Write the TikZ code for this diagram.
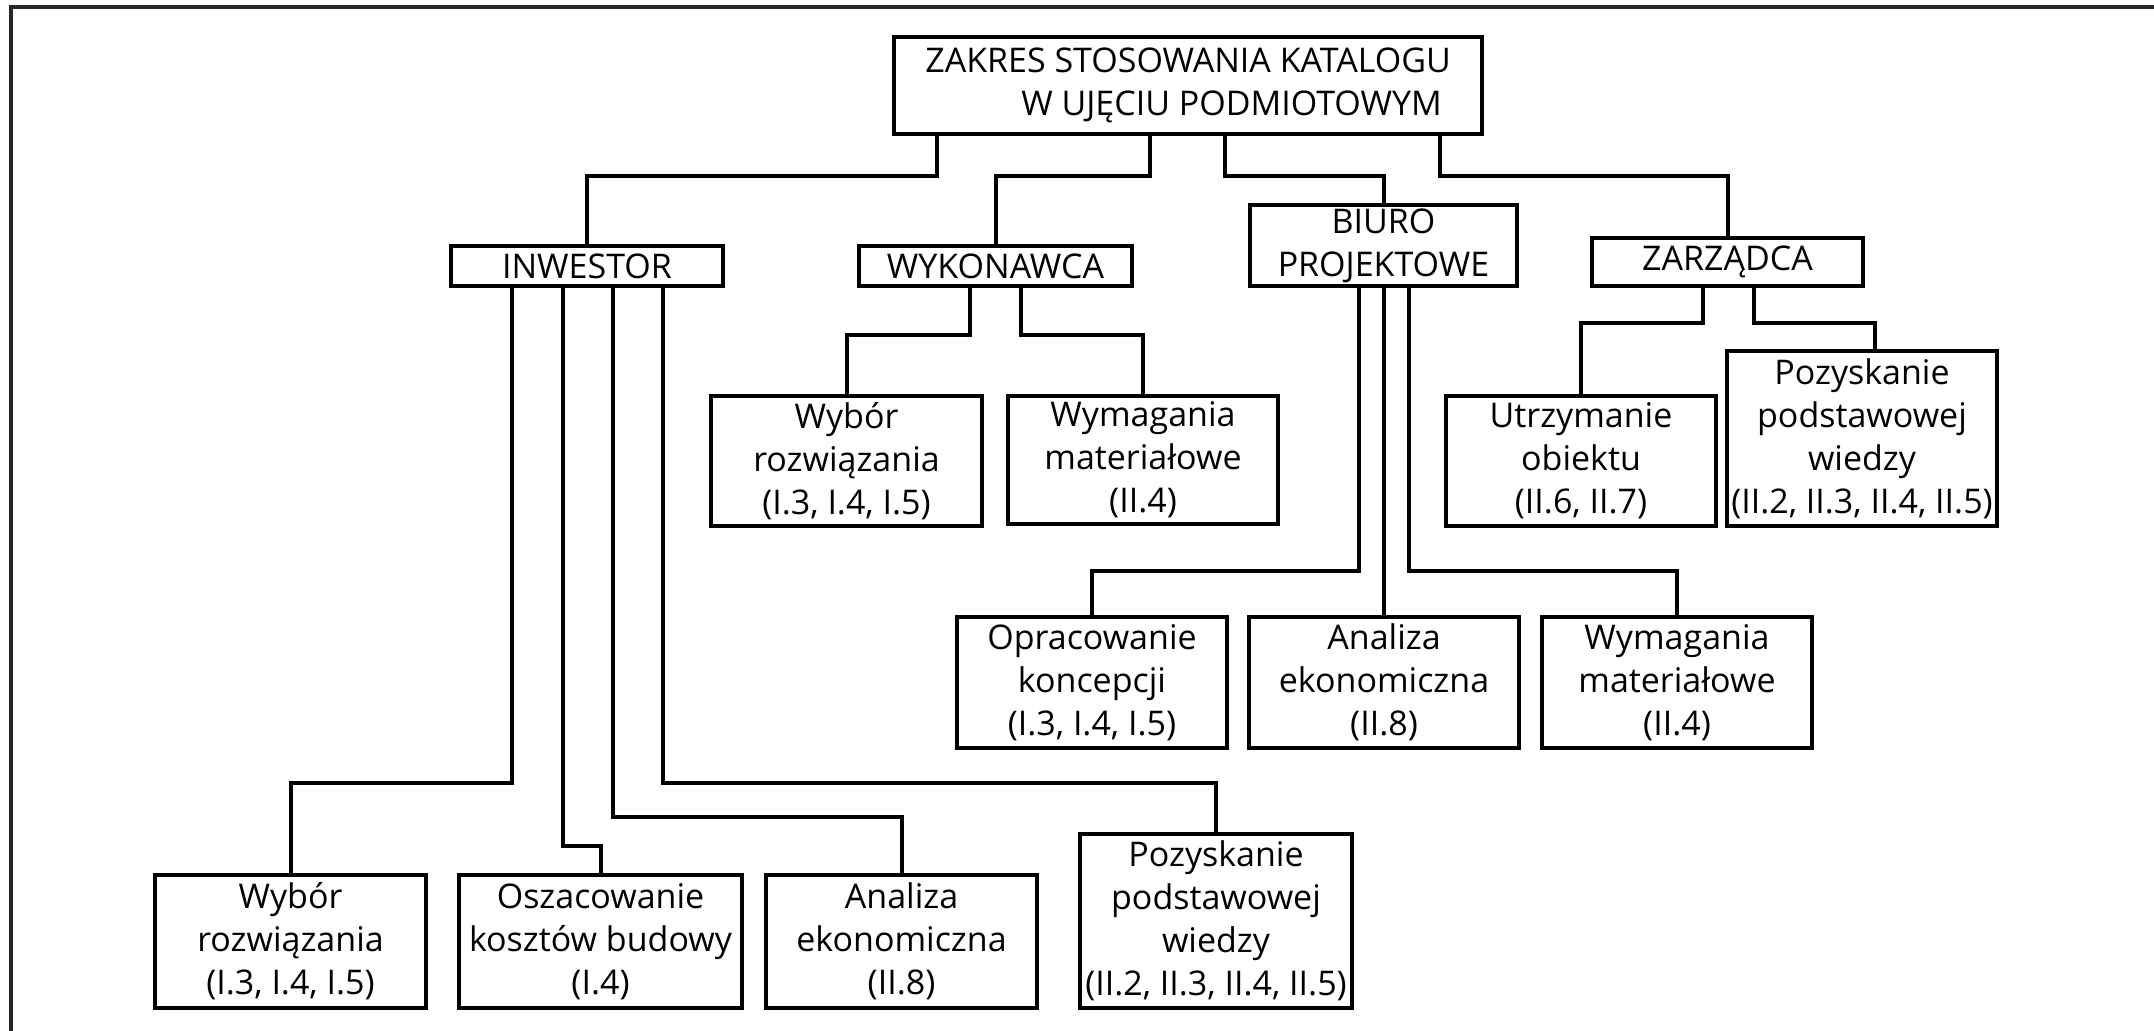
\documentclass[tikz,border=0pt]{standalone}
\usepackage{fontspec}
\setmainfont{Open Sans}
\newcommand\diagfont{\fontsize{17}{21.5}\selectfont}
\begin{document}
\begin{tikzpicture}[x=0.5pt,y=-0.5pt,
  box/.style={draw, line width=2.4pt, inner sep=0pt, align=center, font=\diagfont},
  sz/.style 2 args={minimum width={#1*0.5pt}, minimum height={#2*0.5pt}},
  conn/.style={line width=2pt},
  frame/.style={line width=2pt, black!85},
]
\useasboundingbox (0,0) rectangle (2154,1031);

% outer frame (top and left edges)
\draw[frame] (11,1031) -- (11,7) -- (2154,7);

% root
\node[box, sz={588}{97}, align=left] (root) at (1188,85.5)
  {ZAKRES STOSOWANIA KATALOGU\\\hspace*{48pt}W UJĘCIU PODMIOTOWYM};

% subjects
\node[box, sz={272}{40}] (inv) at (587,266) {INWESTOR};
\node[box, sz={273}{40}] (wyk) at (995.5,266) {WYKONAWCA};
\node[box, sz={267}{81}] (biu) at (1383.5,245.5) {BIURO\\PROJEKTOWE};
\node[box, sz={271}{48}] (zar) at (1727.5,262) {ZARZĄDCA};

% contractor tasks
\node[box, sz={271}{130}] (wykA) at (846.5,461) {Wybór\\rozwiązania\\(I.3, I.4, I.5)};
\node[box, sz={270}{128}] (wykB) at (1143,460) {Wymagania\\materiałowe\\(II.4)};

% manager tasks
\node[box, sz={270}{130}] (zarA) at (1581,461) {Utrzymanie\\obiektu\\(II.6, II.7)};
\node[box, sz={270}{175}] (zarB) at (1862,438.5) {Pozyskanie\\podstawowej\\wiedzy\\(II.2, II.3, II.4, II.5)};

% design office tasks
\node[box, sz={270}{131}] (biuA) at (1092,682.5) {Opracowanie\\koncepcji\\(I.3, I.4, I.5)};
\node[box, sz={270}{131}] (biuB) at (1384,682.5) {Analiza\\ekonomiczna\\(II.8)};
\node[box, sz={270}{131}] (biuC) at (1677,682.5) {Wymagania\\materiałowe\\(II.4)};

% investor tasks
\node[box, sz={271}{133}] (invA) at (290.5,941.5) {Wybór\\rozwiązania\\(I.3, I.4, I.5)};
\node[box, sz={283}{133}] (invB) at (600.5,941.5) {Oszacowanie\\kosztów budowy\\(I.4)};
\node[box, sz={271}{133}] (invC) at (901.5,941.5) {Analiza\\ekonomiczna\\(II.8)};
\node[box, sz={272}{174}] (invD) at (1216,921) {Pozyskanie\\podstawowej\\wiedzy\\(II.2, II.3, II.4, II.5)};

% bends of the connectors
\coordinate (r1) at (937,176);
\coordinate (r2) at (1150,176);
\coordinate (r3) at (1225,176);
\coordinate (r4) at (1440,176);
\coordinate (w1) at (970,335);
\coordinate (w2) at (1021,335);
\coordinate (b1) at (1359,571);
\coordinate (b2) at (1384,571);
\coordinate (b3) at (1409,571);
\coordinate (z1) at (1703,323);
\coordinate (z2) at (1754,323);
\coordinate (z2in) at (1875,351);
\coordinate (i1) at (512,783);
\coordinate (i2) at (563,846);
\coordinate (i3) at (613,817);
\coordinate (i4) at (663,783);

% root to subjects
\draw[conn] (root.south -| r1) -- (r1) -| (inv.north);
\draw[conn] (root.south -| r2) -- (r2) -| (wyk.north);
\draw[conn] (root.south -| r3) -- (r3) -| (biu.north);
\draw[conn] (root.south -| r4) -- (r4) -| (zar.north);

% contractor
\draw[conn] (wyk.south -| w1) -- (w1) -| (wykA.north);
\draw[conn] (wyk.south -| w2) -- (w2) -| (wykB.north);

% manager
\draw[conn] (zar.south -| z1) -- (z1) -| (zarA.north);
\draw[conn] (zar.south -| z2) -- (z2) -| (z2in);

% design office
\draw[conn] (biu.south -| b1) -- (b1) -| (biuA.north);
\draw[conn] (biu.south -| b2) -- (biuB.north);
\draw[conn] (biu.south -| b3) -- (b3) -| (biuC.north);

% investor
\draw[conn] (inv.south -| i1) -- (i1) -| (invA.north);
\draw[conn] (inv.south -| i2) -- (i2) -| (invB.north);
\draw[conn] (inv.south -| i3) -- (i3) -| (invC.north);
\draw[conn] (inv.south -| i4) -- (i4) -| (invD.north);
\end{tikzpicture}
\end{document}
